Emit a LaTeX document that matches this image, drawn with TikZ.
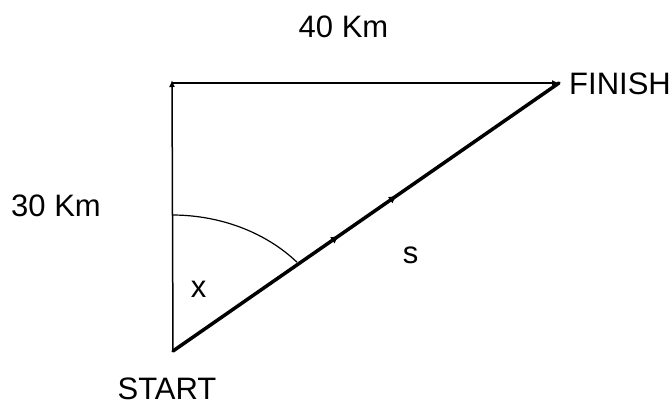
\documentclass[tikz,border=0pt]{standalone}
\usepackage{fontspec}
\setmainfont{Liberation Sans}
\usetikzlibrary{arrows.meta,decorations.markings}
\begin{document}
\begin{tikzpicture}[x=1pt,y=-1pt,
  lbl/.style={anchor=base,inner sep=0pt,font=\fontsize{31}{36}\selectfont},
  thin line/.style={line width=1.5pt,-{Latex[length=7pt,width=6pt]}},
  thick line/.style={line width=3.5pt,line cap=round,
    postaction={decorate},
    decoration={markings,
      mark=at position 0.43 with {\arrow{Latex[length=8pt,width=8pt]}},
      mark=at position 0.58 with {\arrow{Latex[length=8pt,width=8pt]}}}}]
\useasboundingbox (0,0) rectangle (672,405);
\coordinate (S) at (173,351);
\coordinate (T) at (172,80);
\coordinate (TL) at (172,83);
\coordinate (F) at (559,83);
\draw[thin line] (S) -- (T);
\draw[thin line] (TL) -- (F);
\draw[thick line] (S) -- (F);
\draw[line width=1.2pt] plot[smooth,domain=90:40.8,samples=30]
  ({172+165*cos(\x)},{351-136*sin(\x)});
\node[lbl] (d40) at (343.5,37) {40 Km};
\node[lbl] (d30) at (56,216) {30 Km};
\node[lbl] (fin) at (620,94) {FINISH};
\node[lbl] (sta) at (167,399) {START};
\node[lbl] (xl) at (198.5,297) {x};
\node[lbl] (sl) at (410.5,263) {s};
\end{tikzpicture}
\end{document}
